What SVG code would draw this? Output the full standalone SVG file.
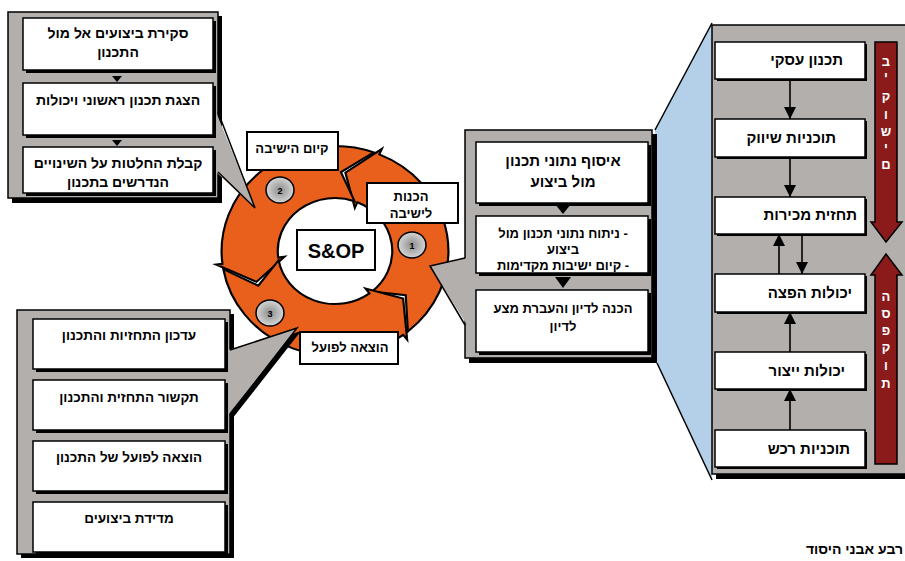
<svg xmlns="http://www.w3.org/2000/svg" width="905" height="561" viewBox="0 0 905 561">
<defs>
<style>
.t{font-family:"Liberation Sans","DejaVu Sans",sans-serif;font-weight:bold;fill:#000}
.s13{font-size:13px}
.s135{font-size:13.5px}
.s14{font-size:14px}
.s15{font-size:15px}
.panel{fill:#B3AFAD;stroke:#000;stroke-width:1.5}
.pf{fill:#B3AFAD}
.edge{fill:none;stroke:#000;stroke-width:1.5}
.box{fill:#fff;stroke:#000;stroke-width:1.5}
.lbl{fill:#fff;stroke:#000;stroke-width:2}
.sh{fill:#000}
.ring{fill:#E8601C;stroke:#000;stroke-width:2;stroke-linejoin:miter}
.red{fill:#8B1B1B;stroke:#000;stroke-width:1.5}
.wl{font-family:"Liberation Sans","DejaVu Sans",sans-serif;font-weight:bold;font-size:13px;fill:#fff}
.ln{stroke:#000;stroke-width:1.6;fill:none}
.dot{fill:url(#gb);stroke:#000;stroke-width:1.5}
</style>
<radialGradient id="gb" cx="0.5" cy="0.5" r="0.5">
<stop offset="0" stop-color="#8c8c8c"/>
<stop offset="1" stop-color="#d6d6d6"/>
</radialGradient>
<marker id="ah" viewBox="0 0 10 10" refX="10" refY="5" markerWidth="12" markerHeight="13" markerUnits="userSpaceOnUse" orient="auto">
<path d="M0,0 L10,5 L0,10 Z" fill="#000"/>
</marker>
</defs>
<rect width="905" height="561" fill="#fff"/>

<g id="zoom-link">
<polygon points="655,130 712,23 712,480 657,363" fill="#B4D0E8"/>
<polyline points="655,130 712,23" class="edge"/>
<polyline points="657,363 712,480" class="edge"/>
</g>

<g id="panel-foundations">
<rect x="716" y="29" width="200" height="450" class="sh"/>
<rect x="712" y="25" width="200" height="449" class="panel" stroke-width="2.5"/>
<g id="n-business"><rect x="717" y="44" width="150" height="37" class="sh"/><rect x="715" y="42" width="150" height="37" class="box"/><text x="843" y="65" text-anchor="end" class="t s15">תכנון עסקי</text></g>
<g id="n-marketing"><rect x="717" y="121" width="150" height="38" class="sh"/><rect x="715" y="119" width="150" height="38" class="box"/><text x="836" y="143" text-anchor="end" class="t s15">תוכניות שיווק</text></g>
<g id="n-forecast"><rect x="717" y="199" width="150" height="37" class="sh"/><rect x="715" y="197" width="150" height="37" class="box"/><text x="857" y="220" text-anchor="end" class="t s15">תחזית מכירות</text></g>
<g id="n-distribution"><rect x="717" y="276" width="150" height="38" class="sh"/><rect x="715" y="274" width="150" height="38" class="box"/><text x="852" y="298" text-anchor="end" class="t s15">יכולות הפצה</text></g>
<g id="n-production"><rect x="717" y="354" width="150" height="37" class="sh"/><rect x="715" y="352" width="150" height="37" class="box"/><text x="845" y="376" text-anchor="end" class="t s15">יכולות ייצור</text></g>
<g id="n-purchasing"><rect x="717" y="432" width="150" height="37" class="sh"/><rect x="715" y="430" width="150" height="37" class="box"/><text x="850" y="454" text-anchor="end" class="t s15">תוכניות רכש</text></g>
<g id="n-demand">
<path d="M875,42 H897 V222 H902 L886,242 L871,222 H875 Z" class="red"/>
<text x="886" y="66" text-anchor="middle" class="wl">ב</text>
<text x="886" y="81" text-anchor="middle" class="wl">י</text>
<text x="886" y="101" text-anchor="middle" class="wl">ק</text>
<text x="886" y="119" text-anchor="middle" class="wl">ו</text>
<text x="886" y="136" text-anchor="middle" class="wl">ש</text>
<text x="886" y="152" text-anchor="middle" class="wl">י</text>
<text x="886" y="169" text-anchor="middle" class="wl">ם</text>
</g>
<g id="n-supply">
<path d="M886,254 L902,275 H897 V464 H875 V275 H871 Z" class="red"/>
<text x="886" y="301" text-anchor="middle" class="wl">ה</text>
<text x="886" y="318" text-anchor="middle" class="wl">ס</text>
<text x="886" y="335" text-anchor="middle" class="wl">פ</text>
<text x="886" y="352" text-anchor="middle" class="wl">ק</text>
<text x="886" y="370" text-anchor="middle" class="wl">ו</text>
<text x="886" y="388" text-anchor="middle" class="wl">ת</text>
</g>
</g>

<g id="cycle">
<g transform="translate(335 251) scale(1.08 1)">
<path id="arrow-1" class="ring" d="M67.49,80.43 A105,105 0 0 0 41.03,-96.66 L43.37,-102.18 L9.63,-78.41 L18.36,-43.26 L20.71,-48.79 A53,53 0 0 1 34.07,40.60 L65.49,44.18 Z"/>
<path id="arrow-2" class="ring" d="M35.91,-98.67 A105,105 0 0 0 -104.22,12.80 L-110.17,13.53 L-72.72,30.87 L-46.65,5.73 L-52.60,6.46 A53,53 0 0 1 18.13,-49.80 L5.51,-78.81 Z"/>
<path id="arrow-3" class="ring" d="M-103.41,18.23 A105,105 0 0 0 63.19,83.85 L66.80,88.64 L63.09,47.54 L28.28,37.53 L31.90,42.33 A53,53 0 0 1 -52.19,9.20 L-71.00,34.63 Z"/>
</g>
<g id="step-2-dot"><ellipse cx="280" cy="190" rx="14" ry="13" class="dot"/><text x="280" y="194" text-anchor="middle" class="t" font-size="9">2</text></g>
<g id="step-1-dot"><ellipse cx="412" cy="245" rx="14" ry="13" class="dot"/><text x="412" y="249" text-anchor="middle" class="t" font-size="9">1</text></g>
<g id="step-3-dot"><ellipse cx="270" cy="313" rx="14" ry="13" class="dot"/><text x="270" y="317" text-anchor="middle" class="t" font-size="9">3</text></g>
</g>

<g id="panel-meeting">
<rect x="12" y="16" width="210" height="187" class="sh"/>
<rect x="8" y="12" width="210" height="186" class="panel"/>
<polygon points="216,112 255,208 216,172" class="pf"/>
<polyline points="218,112 255,208 218,172" class="edge"/>
<g id="n-review"><rect x="26" y="21" width="190" height="52" class="sh"/><rect x="23" y="18" width="190" height="52" class="box"/>
<text x="118" y="38" text-anchor="middle" class="t s14">סקירת ביצועים אל מול</text>
<text x="118" y="57" text-anchor="middle" class="t s14">התכנון</text></g>
<g id="n-present"><rect x="26" y="86" width="190" height="52" class="sh"/><rect x="23" y="83" width="190" height="52" class="box"/>
<text x="118" y="105" text-anchor="middle" class="t s14">הצגת תכנון ראשוני ויכולות</text></g>
<g id="n-decide"><rect x="26" y="150" width="190" height="46" class="sh"/><rect x="23" y="147" width="190" height="46" class="box"/>
<text x="118" y="168" text-anchor="middle" class="t s14">קבלת החלטות על השינויים</text>
<text x="118" y="187" text-anchor="middle" class="t s14">הנדרשים בתכנון</text></g>
</g>

<g id="panel-execution">
<rect x="21" y="314" width="213" height="244" class="sh"/>
<rect x="17" y="310" width="213" height="244" class="panel"/>
<polygon points="232,354 301,331 232,419" class="sh"/>
<polygon points="228,350 297,328 228,415" class="pf"/>
<polyline points="230,350 297,328 230,415" class="edge"/>
<g id="n-update"><rect x="36" y="322" width="192" height="50" class="sh"/><rect x="33" y="319" width="192" height="50" class="box"/>
<text x="129" y="340" text-anchor="middle" class="t s135">עדכון התחזיות והתכנון</text></g>
<g id="n-communicate"><rect x="36" y="383" width="192" height="50" class="sh"/><rect x="33" y="380" width="192" height="50" class="box"/>
<text x="129" y="402" text-anchor="middle" class="t s135">תקשור התחזית והתכנון</text></g>
<g id="n-implement"><rect x="36" y="444" width="192" height="50" class="sh"/><rect x="33" y="441" width="192" height="50" class="box"/>
<text x="129" y="462" text-anchor="middle" class="t s135">הוצאה לפועל של התכנון</text></g>
<g id="n-measure"><rect x="36" y="505" width="192" height="50" class="sh"/><rect x="33" y="502" width="192" height="50" class="box"/>
<text x="129" y="523" text-anchor="middle" class="t s135">מדידת ביצועים</text></g>
</g>

<g id="panel-preparation">
<rect x="469" y="134" width="188" height="229" class="sh"/>
<rect x="465" y="130" width="187" height="228" class="panel"/>
<polygon points="467,258 430,266 467,325" class="pf"/>
<polyline points="465,258 430,266 465,325" class="edge"/>
<g id="n-collect"><rect x="479" y="145" width="172" height="61" class="sh"/><rect x="476" y="142" width="172" height="61" class="box"/>
<text x="563" y="166" text-anchor="middle" class="t s15">איסוף נתוני תכנון</text>
<text x="563" y="187" text-anchor="middle" class="t s15">מול ביצוע</text></g>
<g id="n-analyze"><rect x="479" y="219" width="172" height="57" class="sh"/><rect x="476" y="216" width="172" height="57" class="box"/>
<text x="563" y="238" text-anchor="middle" direction="rtl" class="t s13">- ניתוח נתוני תכנון מול</text>
<text x="563" y="254" text-anchor="middle" direction="rtl" class="t s13">ביצוע</text>
<text x="563" y="270" text-anchor="middle" direction="rtl" class="t s13">- קיום ישיבות מקדימות</text></g>
<g id="n-prepare"><rect x="479" y="293" width="172" height="62" class="sh"/><rect x="476" y="290" width="172" height="62" class="box"/>
<text x="563" y="313" text-anchor="middle" class="t s13">הכנה לדיון והעברת מצע</text>
<text x="563" y="331" text-anchor="middle" class="t s13">לדיון</text></g>
</g>

<g id="lbl-meeting"><rect x="247" y="132" width="91" height="38" class="lbl"/><text x="292" y="153" text-anchor="middle" class="t s13">קיום הישיבה</text></g>
<g id="lbl-prep"><rect x="367" y="183" width="91" height="40" class="lbl"/><text x="411" y="201" text-anchor="middle" class="t s13">הכנות</text><text x="411" y="218" text-anchor="middle" class="t s13">לישיבה</text></g>
<g id="lbl-sop"><rect x="297" y="230" width="78" height="40" class="lbl"/><text x="336" y="258" text-anchor="middle" class="t" font-size="20">S&amp;OP</text></g>
<g id="lbl-exec"><rect x="300" y="332" width="98" height="32" class="lbl"/><text x="350" y="352" text-anchor="middle" class="t s13">הוצאה לפועל</text></g>

<g id="connectors">
<polygon points="112,76 122,76 117,82"/>
<polygon points="112,140 122,140 117,146"/>
<polygon points="555,204 571,204 563,214"/>
<polygon points="555,277 571,277 563,288"/>
<line x1="790" y1="79" x2="790" y2="119" class="ln" marker-end="url(#ah)"/>
<line x1="790" y1="157" x2="790" y2="197" class="ln" marker-end="url(#ah)"/>
<line x1="779" y1="274" x2="779" y2="234" class="ln" marker-end="url(#ah)"/>
<line x1="802" y1="234" x2="802" y2="274" class="ln" marker-end="url(#ah)"/>
<line x1="790" y1="352" x2="790" y2="312" class="ln" marker-end="url(#ah)"/>
<line x1="790" y1="430" x2="790" y2="389" class="ln" marker-end="url(#ah)"/>
</g>

<text x="903" y="554" text-anchor="end" class="t s14">רבע אבני היסוד</text>
</svg>
